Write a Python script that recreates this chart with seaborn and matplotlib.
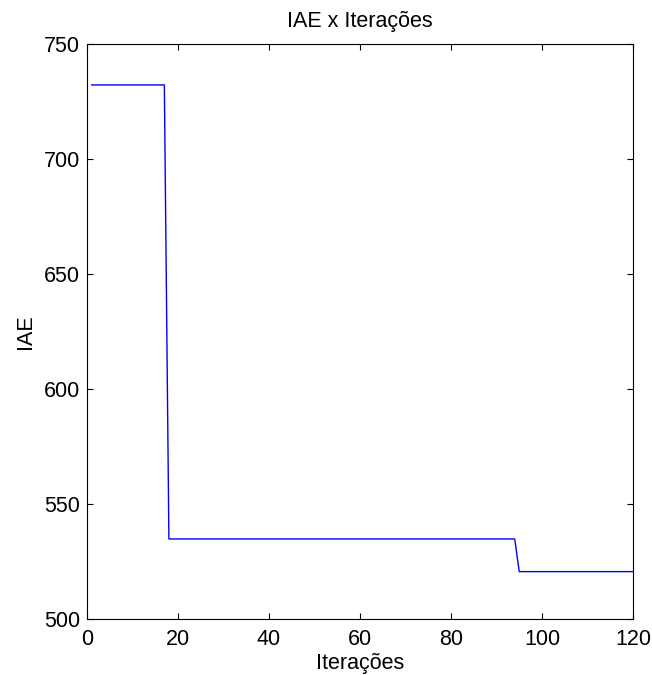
import matplotlib
matplotlib.use("Agg")
import matplotlib.pyplot as plt
import seaborn as sns
import pandas as pd

# Corner points of the IAE history (value held constant between them)
iteracoes = [1, 17, 18, 94, 95, 120]
iae = [732.2, 732.2, 534.8, 534.8, 520.6, 520.6]

x_ticks = [0, 20, 40, 60, 80, 100, 120]
y_ticks = [500, 550, 600, 650, 700, 750]

sns.set_theme(style="white")
plt.rcParams["font.family"] = ["Liberation Sans", "DejaVu Sans"]
plt.rcParams["text.color"] = "black"
plt.rcParams["axes.labelcolor"] = "black"

df = pd.DataFrame({"Iterações": iteracoes, "IAE": iae})

fig = plt.figure(figsize=(6.52, 6.75), dpi=100)
ax = fig.add_axes([87 / 652, 56 / 675, 546 / 652, 575 / 675])

sns.lineplot(data=df, x="Iterações", y="IAE", ax=ax, color="#0000ff",
             linewidth=1.0, estimator=None, sort=False)

ax.set_xlim(0, 120)
ax.set_ylim(500, 750)
ax.set_xticks(x_ticks)
ax.set_yticks(y_ticks)
ax.tick_params(direction="in", length=4, width=0.8, colors="black",
               labelsize=15.5, top=True, right=True, bottom=True, left=True)
ax.tick_params(axis="y", pad=5)
ax.tick_params(axis="x", pad=7)
for s in ax.spines.values():
    s.set_visible(True)
    s.set_color("black")
    s.set_linewidth(0.8)

ax.set_title("IAE x Iterações", fontsize=15.5, pad=12, color="black")
ax.set_xlabel("Iterações", fontsize=15.5, labelpad=2.5)
ax.set_ylabel("IAE", fontsize=15.5, labelpad=5.5)

fig.savefig("out.png", dpi=100, facecolor="white")
